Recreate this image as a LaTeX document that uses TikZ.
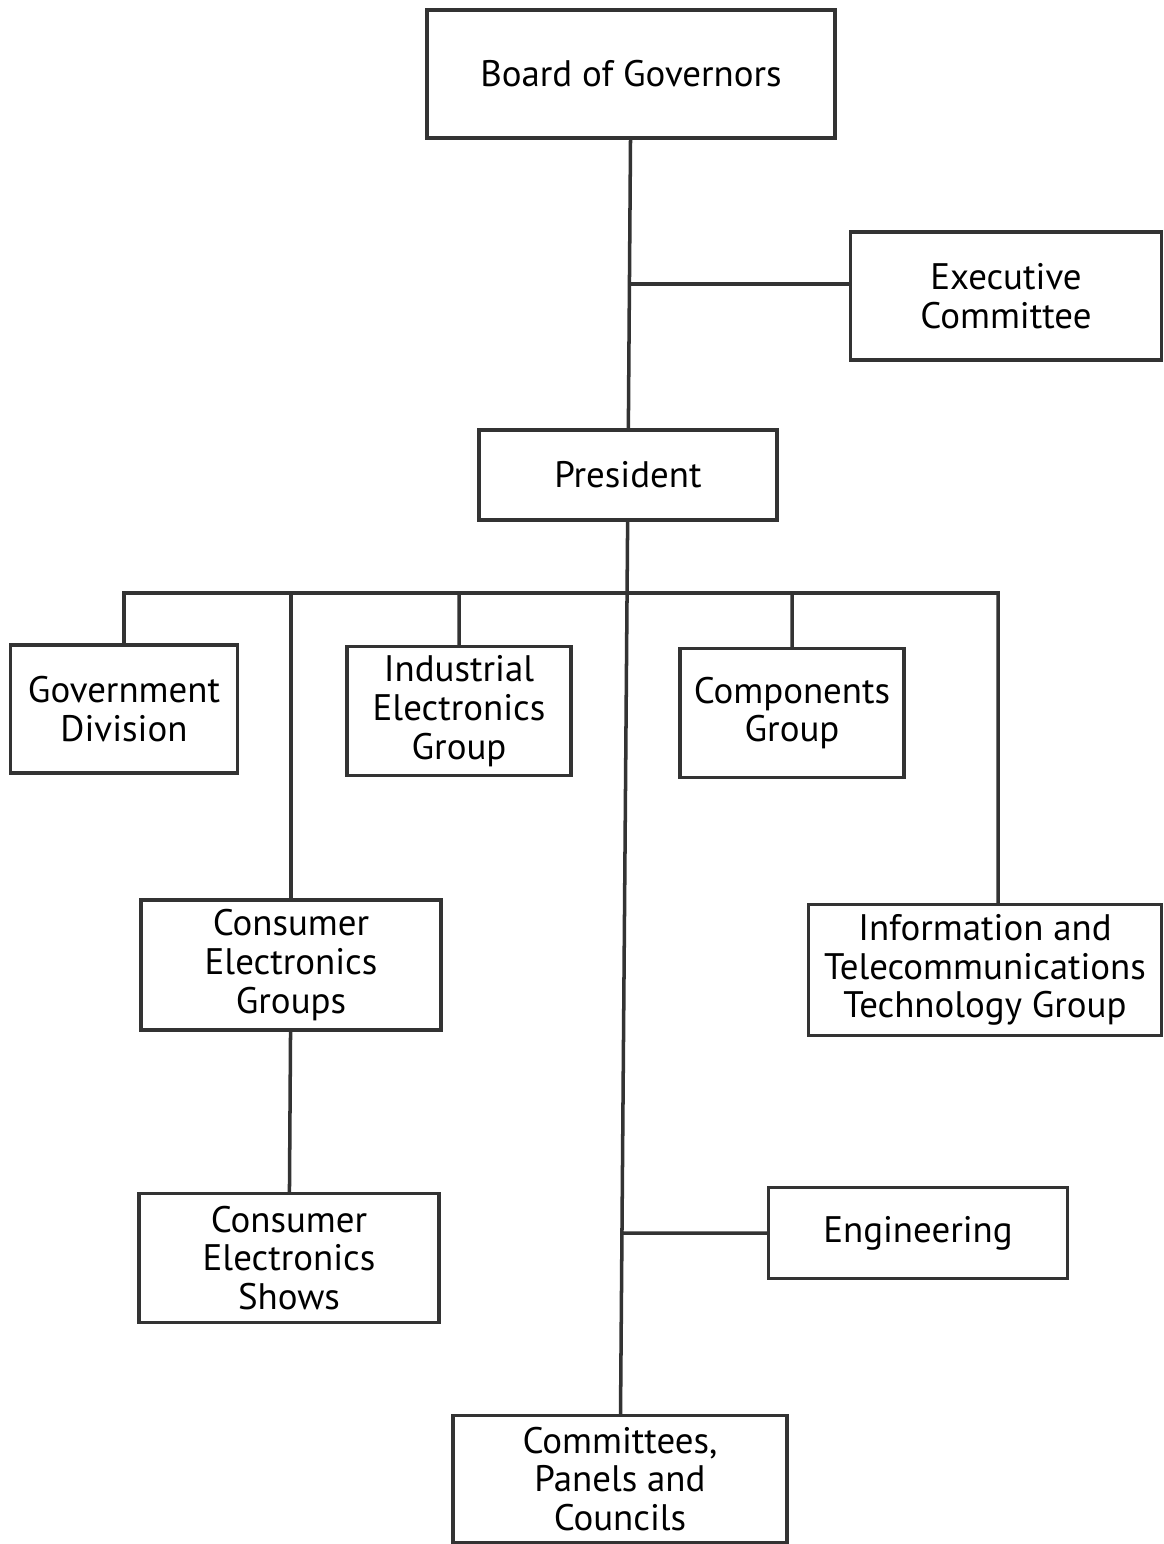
\documentclass[tikz,border=0pt]{standalone}
\usepackage{fontspec}
\setmainfont{PT Sans}
\usepackage{tikz}

\begin{document}
\begin{tikzpicture}[x=0.02cm,y=-0.02cm,
        box/.style={draw=black!80,line width=2pt,align=center,inner sep=0pt,
                    font=\fontsize{21}{22}\selectfont},
        link/.style={draw=black!80,line width=2pt}]
            \useasboundingbox (0,0) rectangle (1163,1544);

            \node (a) at (631,74) [box,minimum width=8.16cm,minimum height=2.56cm] {Board of Governors};
            \node (b) at (1006,296) [box,minimum width=6.22cm,minimum height=2.56cm] {Executive\\Committee};
            \node (c) at (628,475) [box,minimum width=5.96cm,minimum height=1.8cm] {President};
            \node (d) at (124,709) [box,minimum width=4.54cm,minimum height=2.56cm] {Government\\Division};
            \node (e) at (459,711) [box,minimum width=4.48cm,minimum height=2.58cm] {Industrial\\Electronics\\Group};
            \node (f) at (792,713) [box,minimum width=4.48cm,minimum height=2.58cm] {Components\\Group};
            \node (g) at (291,965) [box,minimum width=6.0cm,minimum height=2.6cm] {Consumer\\Electronics\\Groups};
            \node (h) at (985,970) [box,minimum width=7.06cm,minimum height=2.62cm] {Information and\\Telecommunications\\Technology Group};
            \node (i) at (289,1258) [box,minimum width=6.0cm,minimum height=2.58cm] {Consumer\\Electronics\\Shows};
            \node (j) at (918,1233) [box,minimum width=5.98cm,minimum height=1.82cm] {Engineering};
            \node (l) at (620,1479) [box,minimum width=6.68cm,minimum height=2.54cm] {Committees,\\Panels and\\Councils};

            \coordinate (p) at (630,284);
            \coordinate (q) at (628,593);
            \coordinate (s) at (998,593);
            \coordinate (r) at (622,1233);

            \draw[link] (a) -- (c) (p) -- (p -| b.west) (c) -- (l)
                (d.north) |- (s) -- (s |- h.north)
                (g.north) -- (g.north |- q) (e.north) -- (e.north |- q) (f.north) -- (f.north |- q)
                (g) -- (i) (r) -- (j.west);
        \end{tikzpicture}
\end{document}
